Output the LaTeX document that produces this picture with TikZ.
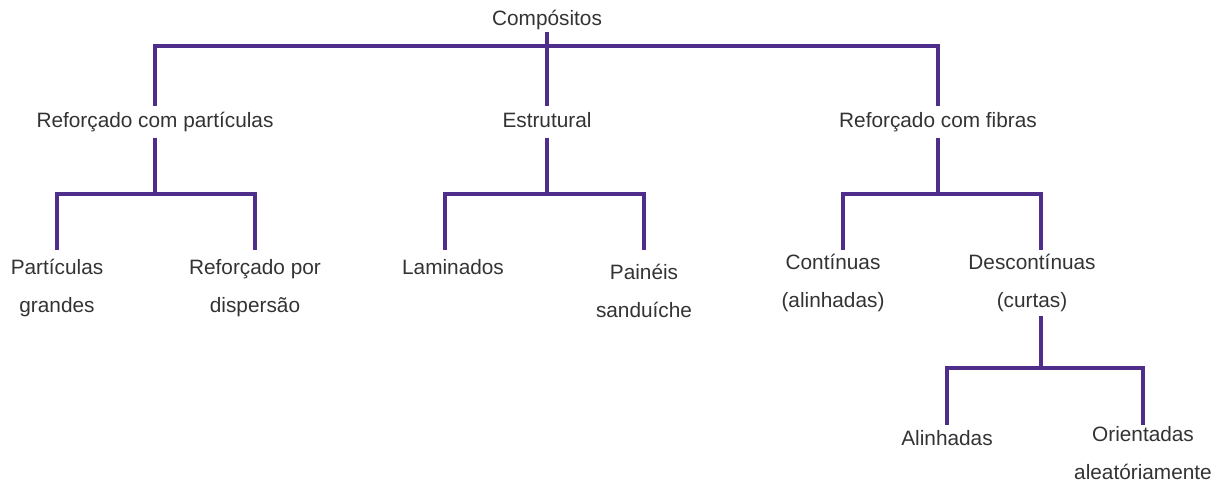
\documentclass[tikz,border=0pt]{standalone}
\usepackage{fontspec}
\setmainfont{Liberation Sans}
\usepackage{tikz}
\usetikzlibrary{calc}
\definecolor{treepurple}{RGB}{78,46,138}
\definecolor{labelgray}{RGB}{51,51,51}
\tikzset{
    lbl/.style={draw=none, text=labelgray, font=\fontsize{10.4}{19}\selectfont, align=center, text height=7.5pt, text depth=2.3pt, inner sep=3pt},
    leaf/.style={draw=none, text=labelgray, font=\fontsize{10.4}{19}\selectfont, align=center, inner xsep=1pt, anchor=north},
    branch/.style={line width=1.6pt, treepurple},
}

\begin{document}
\begin{tikzpicture}[x=0.5pt, y=-0.5pt]
        \useasboundingbox (0,0) rectangle (1224,484);

        % coordinates
        \coordinate (b0) at (547,46);
        \coordinate (b1) at (155,194);
        \coordinate (b2) at (547,194);
        \coordinate (b3) at (938,194);
        \coordinate (b4) at (1041,368);

        % Text
        \node[lbl, inner sep=1pt] (comp) at (547,20) {Compósitos};
        \node[lbl] (rcp) at (155,122) {Reforçado com partículas};
        \node[lbl] (estr) at (547,122) {Estrutural};
        \node[lbl] (rcf) at (938,122) {Reforçado com fibras};

        % Text
        \node[leaf, inner ysep=4.5pt] (pg) at (57,250) {Partículas\\grandes};
        \node[leaf, inner ysep=4.5pt] (rpd) at (255,250) {Reforçado por\\dispersão};
        \node[leaf, inner ysep=4.5pt] (lam) at (453,250) {Laminados};
        \node[leaf, inner ysep=7pt] (pain) at (644,250) {Painéis\\sanduíche};
        \node[leaf, inner ysep=2pt] (cont) at (833,250) {Contínuas\\(alinhadas)};
        \node[leaf, inner ysep=2pt] (desc) at (1032,250) {Descontínuas\\(curtas)};
        \node[leaf, inner ysep=2.75pt] (alin) at (947,425) {Alinhadas};
        \node[leaf, inner ysep=0.75pt] (orie) at (1143,425) {Orientadas\\aleatóriamente};

        % branches
        \draw[branch] (comp) -- (b0);
        \draw[branch] (rcp) |- (b0) -| (rcf);
        \draw[branch] (estr) -- (b0);

        % branches
        \draw[branch] (rcp) -- (b1);
        \draw[branch] (pg) |- (b1) -| (rpd);
        \draw[branch] (estr) -- (b2);
        \draw[branch] ([xshift=-4pt]lam.north) |- (b2) -| (pain);
        \draw[branch] (rcf) -- (b3);
        \draw[branch] ([xshift=5pt]cont.north) |- (b3) -| ([xshift=4.5pt]desc.north);

        % branches
        \draw[branch] ([xshift=4.5pt]desc.south) -- (b4);
        \draw[branch] (alin) |- (b4) -| (orie);

\end{tikzpicture}
\end{document}
